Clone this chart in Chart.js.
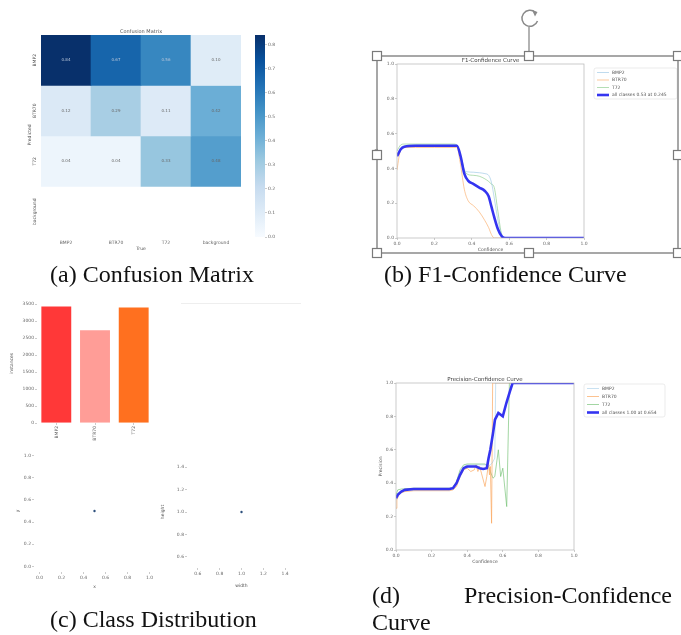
<!DOCTYPE html>
<html>
<head>
<meta charset="utf-8">
<script src="https://cdn.jsdelivr.net/npm/chart.js@4.4.1/dist/chart.umd.min.js"></script>
<style>
  body { margin: 0; background: #fff; width: 681px; height: 635px; position: relative; overflow: hidden; }
  canvas { position: absolute; }
  .cap { position: absolute; font-family: 'Liberation Serif', 'Times New Roman', serif; font-size: 24px; color: #111; white-space: nowrap; line-height: 1; }
  #frame { position: absolute; left: 0; top: 0; pointer-events: none; }
  #blank { position: absolute; left: 181px; top: 303px; width: 120px; height: 140px; border-top: 1px solid #eee; }
</style>
</head>
<body>
<canvas id="cm" width="300" height="252" style="left:0;top:0"></canvas>
<canvas id="cbar" width="60" height="252" style="left:240px;top:0"></canvas>
<canvas id="f1" width="311" height="225" style="left:370px;top:40px"></canvas>
<canvas id="dist" width="180" height="155" style="left:0;top:290px"></canvas>
<div id="blank"></div>
<canvas id="xy" width="165" height="155" style="left:0;top:440px"></canvas>
<canvas id="wh" width="160" height="155" style="left:150px;top:440px"></canvas>
<canvas id="prec" width="311" height="215" style="left:370px;top:360px"></canvas>

<svg id="frame" width="681" height="635">
  <rect x="377" y="56" width="301" height="197" fill="none" stroke="#8a8a8a" stroke-width="1.5"/>
  <line x1="529" y1="27" x2="529" y2="51" stroke="#8a8a8a" stroke-width="1.3"/>
  <path d="M 535.5 12.5 A 8 8 0 1 0 537.5 21" fill="none" stroke="#8a8a8a" stroke-width="1.5"/>
  <path d="M 532 10 L 537.5 12 L 535 16.5 Z" fill="#8a8a8a"/>
  <g fill="#fff" stroke="#7a7a7a" stroke-width="1.2">
    <rect x="372.5" y="51.5" width="9" height="9"/>
    <rect x="524.5" y="51.5" width="9" height="9"/>
    <rect x="673.5" y="51.5" width="9" height="9"/>
    <rect x="372.5" y="150.5" width="9" height="9"/>
    <rect x="673.5" y="150.5" width="9" height="9"/>
    <rect x="372.5" y="248.5" width="9" height="9"/>
    <rect x="524.5" y="248.5" width="9" height="9"/>
    <rect x="673.5" y="248.5" width="9" height="9"/>
  </g>
</svg>

<div class="cap" style="left:50px;top:262px">(a) Confusion Matrix</div>
<div class="cap" style="left:384px;top:262px">(b) F1-Confidence Curve</div>
<div class="cap" style="left:50px;top:607px">(c) Class Distribution</div>
<div class="cap" style="left:372px;top:583px">(d)</div>
<div class="cap" style="right:9px;top:583px">Precision-Confidence</div>
<div class="cap" style="left:372px;top:610px">Curve</div>

<script>
// ---- confusion matrix (rows = predicted, columns = true) ----
const cmCols = ['BMP2', 'BTR70', 'T72', 'background'];
const cmRows = ['BMP2', 'BTR70', 'T72', 'background'];
const cmBmp2 = [0.84, 0.67, 0.56, 0.10];
const cmBtr70 = [0.12, 0.29, 0.11, 0.42];
const cmT72 = [0.04, 0.04, 0.33, 0.48];
const cmBackground = [null, null, null, null];
const cmMax = 0.84;
const cbTicks = [0, 0.1, 0.2, 0.3, 0.4, 0.5, 0.6, 0.7, 0.8];

// ---- class distribution ----
const classNames = ['BMP2', 'BTR70', 'T72'];
const classCounts = [3440, 2740, 3410];
const classColors = ['#ff3838', '#ff9d97', '#ff701f'];
const countTicks = [0, 500, 1000, 1500, 2000, 2500, 3000, 3500];

// ---- label position / size scatter ----
const xyX = [0.5];
const xyY = [0.5];
const xyTicks = [0, 0.2, 0.4, 0.6, 0.8, 1.0];
const whW = [1.0];
const whH = [1.0];
const whTicks = [0.6, 0.8, 1.0, 1.2, 1.4];

// ---- F1-confidence curve ----
const f1Conf = [0, 0.01, 0.02, 0.04, 0.1, 0.2, 0.3, 0.32, 0.34, 0.36, 0.38, 0.41, 0.44, 0.47, 0.49, 0.505, 0.52, 0.54, 0.56, 0.58, 0.7, 1.0];
const f1Bmp2 = [0.48, 0.50, 0.52, 0.53, 0.535, 0.535, 0.535, 0.53, 0.47, 0.39, 0.38, 0.378, 0.375, 0.37, 0.36, 0.32, 0.23, 0.10, 0.02, 0, 0, 0];
const f1Btr70 = [0.39, 0.46, 0.51, 0.52, 0.52, 0.52, 0.52, 0.52, 0.42, 0.28, 0.215, 0.185, 0.15, 0.10, 0.06, 0.02, 0, 0, 0, 0, 0, 0];
const f1T72 = [0.50, 0.52, 0.535, 0.54, 0.54, 0.54, 0.54, 0.535, 0.48, 0.39, 0.365, 0.36, 0.355, 0.34, 0.325, 0.31, 0.29, 0.15, 0.02, 0, 0, 0];
const f1All = [0.47, 0.49, 0.51, 0.525, 0.53, 0.53, 0.53, 0.53, 0.47, 0.37, 0.33, 0.31, 0.29, 0.27, 0.24, 0.18, 0.12, 0.05, 0.01, 0, 0, 0];
const axisTicks = [0, 0.2, 0.4, 0.6, 0.8, 1.0];

// ---- precision-confidence curve ----
const pBmp2Conf = [0, 0.01, 0.03, 0.1, 0.3, 0.32, 0.34, 0.36, 0.38, 0.4, 0.5, 0.52, 0.54, 0.555, 0.56, 1.0];
const pBmp2 = [0.30, 0.34, 0.355, 0.36, 0.36, 0.365, 0.40, 0.47, 0.50, 0.51, 0.51, 0.50, 0.52, 0.55, 1.0, 1.0];
const pBtr70Conf = [0, 0.005, 0.02, 0.05, 0.1, 0.3, 0.32, 0.34, 0.36, 0.38, 0.4, 0.42, 0.44, 0.45, 0.46, 0.47, 0.48, 0.49, 0.5, 0.51, 0.52, 0.525, 0.53, 0.537, 0.543, 0.6, 1.0];
const pBtr70 = [0.25, 0.30, 0.34, 0.35, 0.355, 0.355, 0.36, 0.38, 0.44, 0.48, 0.49, 0.47, 0.48, 0.51, 0.47, 0.50, 0.46, 0.42, 0.38, 0.44, 0.52, 0.45, 0.50, 0.16, 1.0, 1.0, 1.0];
const pT72Conf = [0, 0.01, 0.03, 0.1, 0.3, 0.32, 0.34, 0.36, 0.38, 0.4, 0.5, 0.52, 0.53, 0.545, 0.555, 0.575, 0.588, 0.6, 0.622, 0.637, 0.64, 1.0];
const pT72 = [0.33, 0.36, 0.365, 0.37, 0.37, 0.375, 0.41, 0.48, 0.51, 0.515, 0.515, 0.50, 0.47, 0.43, 0.44, 0.60, 0.44, 0.49, 0.26, 1.0, 1.0, 1.0];
const pAllConf = [0, 0.01, 0.03, 0.05, 0.1, 0.2, 0.3, 0.32, 0.34, 0.36, 0.38, 0.4, 0.45, 0.47, 0.49, 0.51, 0.52, 0.53, 0.545, 0.556, 0.575, 0.6, 0.62, 0.64, 0.655, 0.7, 0.8, 1.0];
const pAll = [0.31, 0.33, 0.35, 0.36, 0.365, 0.365, 0.365, 0.37, 0.40, 0.45, 0.49, 0.50, 0.50, 0.49, 0.485, 0.49, 0.55, 0.60, 0.70, 0.78, 0.82, 0.80, 0.88, 0.95, 1.0, 1.0, 1.0, 1.0];

const blues = ['#f7fbff', '#deebf7', '#c6dbef', '#9ecae1', '#6baed6', '#4292c6', '#2171b5', '#08519c', '#08306b'];
function hex(c) { return [1, 3, 5].map(i => parseInt(c.slice(i, i + 2), 16)); }
function bluesAt(t) {
  t = Math.max(0, Math.min(1, t)) * (blues.length - 1);
  const i = Math.min(Math.floor(t), blues.length - 2), f = t - i;
  const a = hex(blues[i]), b = hex(blues[i + 1]);
  return 'rgb(' + a.map((v, k) => Math.round(v + (b[k] - v) * f)).join(',') + ')';
}

const tiny = { family: 'DejaVu Sans', size: 4.5 };
Chart.defaults.animation = false;
Chart.defaults.responsive = false;
Chart.defaults.devicePixelRatio = 1;
Chart.defaults.plugins.legend.display = false;
Chart.defaults.plugins.tooltip.enabled = false;

function axis(o) {
  const a = {
    type: o.type || 'linear',
    grid: { display: o.marks !== false, drawOnChartArea: false, offset: false, tickLength: 2, color: '#999', lineWidth: 0.5 },
    border: { display: false },
    ticks: { font: tiny, color: '#666', padding: 1, autoSkip: false, minRotation: o.rot || 0, maxRotation: o.rot || 0 },
    title: o.title ? { display: true, text: o.title, font: tiny, color: '#555', padding: o.tpad || 0 } : { display: false },
    afterFit: s => { if (s.isHorizontal()) s.height = o.size; else s.width = o.size; }
  };
  ['min', 'max', 'reverse', 'position'].forEach(k => { if (o[k] !== undefined) a[k] = o[k]; });
  if (o.fmt) a.ticks.callback = o.fmt;
  if (o.hide) a.ticks.display = false;
  if (o.ticks) a.afterBuildTicks = s => { s.ticks = o.ticks.map(v => ({ value: v })); };
  return a;
}
const f1dp = v => Number(v).toFixed(1);
const plain = v => String(v);

// box around the axes, title and a framed legend
const axesDecor = {
  id: 'axesDecor',
  afterDraw(chart, args, o) {
    const c = chart.ctx, a = chart.chartArea;
    c.save();
    if (o.box) {
      c.strokeStyle = '#b5b5b5'; c.lineWidth = 0.7;
      c.strokeRect(a.left, a.top, a.right - a.left, a.bottom - a.top);
    }
    if (o.title) {
      c.fillStyle = '#444'; c.font = '5.5px DejaVu Sans'; c.textAlign = 'center'; c.textBaseline = 'bottom';
      c.fillText(o.title, (a.left + a.right) / 2, a.top - 1);
    }
    if (o.legend) {
      const L = o.legend, x0 = a.right + L.dx, y0 = a.top + L.dy;
      c.fillStyle = 'rgba(255,255,255,0.9)'; c.strokeStyle = '#e2e2e2'; c.lineWidth = 0.7;
      c.beginPath(); c.roundRect(x0, y0, L.w, L.h, 2); c.fill(); c.stroke();
      c.font = '4.5px DejaVu Sans'; c.textAlign = 'left'; c.textBaseline = 'middle';
      chart.data.datasets.forEach((d, i) => {
        const y = y0 + 3.5 + L.step * i + 1;
        c.strokeStyle = d.borderColor; c.lineWidth = d.borderWidth;
        c.beginPath(); c.moveTo(x0 + 3, y); c.lineTo(x0 + 15, y); c.stroke();
        c.fillStyle = '#555'; c.fillText(d.label, x0 + 18, y);
      });
    }
    c.restore();
  }
};

// ---------- confusion matrix ----------
const cellText = {
  id: 'cellText',
  afterDatasetsDraw(chart) {
    const c = chart.ctx;
    c.save(); c.font = '4px DejaVu Sans'; c.textAlign = 'center'; c.textBaseline = 'middle';
    chart.data.datasets.forEach((ds, di) => {
      chart.getDatasetMeta(di).data.forEach((bar, j) => {
        const v = ds.values[j];
        if (v == null) return;
        const p = bar.getCenterPoint();
        c.fillStyle = v / cmMax > 0.6 ? '#b9c6da' : '#666';
        c.fillText(v.toFixed(2), p.x, p.y);
      });
    });
    c.restore();
  },
  afterDraw(chart) {
    const c = chart.ctx, a = chart.chartArea, ys = chart.scales.y;
    c.save(); c.fillStyle = '#555'; c.textAlign = 'center'; c.textBaseline = 'middle';
    c.font = '4.5px DejaVu Sans';
    cmRows.forEach((lab, r) => {
      c.save(); c.translate(35, ys.getPixelForValue(r + 0.5)); c.rotate(-Math.PI / 2);
      c.fillText(lab, 0, 0); c.restore();
    });
    c.save(); c.translate(30, 135); c.rotate(-Math.PI / 2); c.fillText('Predicted', 0, 0); c.restore();
    c.font = '5px DejaVu Sans';
    c.fillText('Confusion Matrix', (a.left + a.right) / 2, a.top - 3);
    c.restore();
  }
};
const cmData = [cmBmp2, cmBtr70, cmT72, cmBackground];
new Chart(document.getElementById('cm'), {
  type: 'bar',
  data: {
    labels: cmCols,
    datasets: cmData.map((vals, r) => ({
      label: cmRows[r],
      values: vals,
      data: vals.map(v => v == null ? null : [r, r + 1]),
      backgroundColor: vals.map(v => v == null ? 'rgba(0,0,0,0)' : bluesAt(v / cmMax)),
      grouped: false, categoryPercentage: 1, barPercentage: 1, borderWidth: 0
    }))
  },
  options: {
    layout: { padding: { left: 0, top: 35, right: 59, bottom: 0 } },
    scales: {
      x: axis({ type: 'category', size: 15, marks: false, title: 'True' }),
      y: axis({ min: 0, max: 4, reverse: true, size: 41, marks: false, hide: true })
    }
  },
  plugins: [cellText]
});

// colour bar
new Chart(document.getElementById('cbar'), {
  type: 'bar',
  data: {
    labels: [''],
    datasets: [{
      data: [[0, cmMax]], categoryPercentage: 1, barPercentage: 1, borderWidth: 0,
      backgroundColor: ctx => {
        const a = ctx.chart.chartArea;
        if (!a) return blues[4];
        const g = ctx.chart.ctx.createLinearGradient(0, a.bottom, 0, a.top);
        blues.forEach((col, i) => g.addColorStop(i / (blues.length - 1), col));
        return g;
      }
    }]
  },
  options: {
    layout: { padding: { left: 15, top: 35, right: 0, bottom: 15 } },
    scales: {
      x: { display: false },
      y: axis({ min: 0, max: cmMax, position: 'right', size: 35, ticks: cbTicks, fmt: f1dp })
    }
  }
});

// ---------- F1 curve ----------
function lineSet(label, xs, ys, color, width, order, smooth) {
  return {
    label, order, borderColor: color, borderWidth: width, pointRadius: 0,
    cubicInterpolationMode: smooth ? 'monotone' : 'default', tension: 0,
    data: xs.map((x, i) => ({ x, y: ys[i] }))
  };
}
new Chart(document.getElementById('f1'), {
  type: 'line',
  data: {
    datasets: [
      lineSet('BMP2', f1Conf, f1Bmp2, 'rgba(120,180,220,0.6)', 0.8, 1, true),
      lineSet('BTR70', f1Conf, f1Btr70, 'rgba(250,165,90,0.75)', 0.8, 2, true),
      lineSet('T72', f1Conf, f1T72, 'rgba(120,195,120,0.7)', 0.8, 3, true),
      lineSet('all classes 0.53 at 0.245', f1Conf, f1All, '#3434f0', 2.6, 0, true)
    ]
  },
  options: {
    layout: { padding: { left: 0, top: 24, right: 97, bottom: 12 } },
    scales: {
      x: axis({ min: 0, max: 1, size: 15, ticks: axisTicks, fmt: f1dp, title: 'Confidence' }),
      y: axis({ min: 0, max: 1, size: 27, ticks: axisTicks, fmt: f1dp, title: 'F1', tpad: { top: 4, bottom: 0 } })
    },
    plugins: { axesDecor: { box: true, title: 'F1-Confidence Curve', legend: { dx: 10, dy: 4, w: 83, h: 31, step: 7.5 } } }
  },
  plugins: [axesDecor]
});

// ---------- precision curve ----------
new Chart(document.getElementById('prec'), {
  type: 'line',
  data: {
    datasets: [
      lineSet('BMP2', pBmp2Conf, pBmp2, 'rgba(120,180,220,0.5)', 0.8, 1, false),
      lineSet('BTR70', pBtr70Conf, pBtr70, 'rgba(250,165,90,0.85)', 0.8, 2, false),
      lineSet('T72', pT72Conf, pT72, 'rgba(110,190,110,0.8)', 0.8, 3, false),
      lineSet('all classes 1.00 at 0.654', pAllConf, pAll, '#3434f0', 2.6, 0, false)
    ]
  },
  options: {
    layout: { padding: { left: 0, top: 23, right: 107, bottom: 10 } },
    scales: {
      x: axis({ min: 0, max: 1, size: 15, ticks: axisTicks, fmt: f1dp, title: 'Confidence' }),
      y: axis({ min: 0, max: 1, size: 26, ticks: axisTicks, fmt: f1dp, title: 'Precision', tpad: { top: 8, bottom: 0 } })
    },
    plugins: { axesDecor: { box: true, title: 'Precision-Confidence Curve', legend: { dx: 10, dy: 1, w: 81, h: 33, step: 8 } } }
  },
  plugins: [axesDecor]
});

// ---------- class distribution ----------
new Chart(document.getElementById('dist'), {
  type: 'bar',
  data: {
    labels: classNames,
    datasets: [{ data: classCounts, backgroundColor: classColors, borderColor: 'rgba(255,255,255,0.6)', borderWidth: 0.5, categoryPercentage: 1, barPercentage: 0.8 }]
  },
  options: {
    layout: { padding: { left: 0, top: 14, right: 27, bottom: 0 } },
    scales: {
      x: axis({ type: 'category', size: 22, rot: 90 }),
      y: axis({ min: 0, max: 3500, size: 37, ticks: countTicks, fmt: plain, title: 'instances', tpad: { top: 9, bottom: 0 } })
    }
  }
});

// ---------- x / y scatter ----------
const dot = { pointRadius: 1.2, pointBackgroundColor: '#2d4f7c', pointBorderWidth: 0, showLine: false };
new Chart(document.getElementById('xy'), {
  type: 'scatter',
  data: { datasets: [Object.assign({ data: xyX.map((x, i) => ({ x, y: xyY[i] })) }, dot)] },
  options: {
    layout: { padding: { left: 0, top: 10, right: 10, bottom: 5 } },
    scales: {
      x: axis({ min: -0.05, max: 1.05, size: 18, ticks: xyTicks, fmt: f1dp, title: 'x' }),
      y: axis({ min: -0.05, max: 1.05, size: 34, ticks: xyTicks, fmt: f1dp, title: 'y', tpad: { top: 15, bottom: 0 } })
    }
  }
});

// ---------- width / height scatter ----------
new Chart(document.getElementById('wh'), {
  type: 'scatter',
  data: { datasets: [Object.assign({ data: whW.map((x, i) => ({ x, y: whH[i] })) }, dot)] },
  options: {
    layout: { padding: { left: 0, top: 16, right: 14, bottom: 6 } },
    scales: {
      x: axis({ min: 0.5, max: 1.5, size: 21, ticks: whTicks, fmt: f1dp, title: 'width' }),
      y: axis({ min: 0.5, max: 1.5, size: 37, ticks: whTicks, fmt: f1dp, title: 'height', tpad: { top: 10, bottom: 0 } })
    }
  }
});
</script>
</body>
</html>
